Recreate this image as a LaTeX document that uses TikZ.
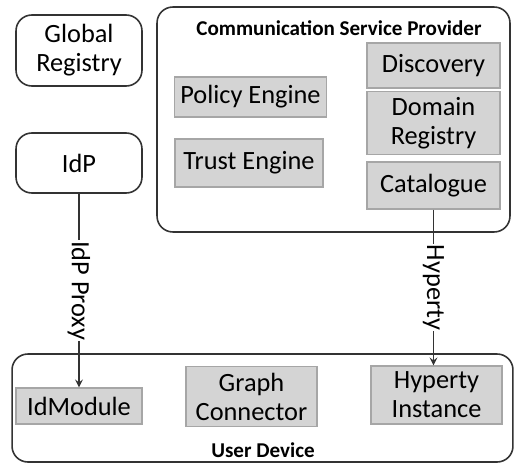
\documentclass[tikz,border=0pt]{standalone}
\usepackage{fontspec}
\setmainfont{Carlito}
\usetikzlibrary{positioning}

\begin{document}
\begin{tikzpicture}[
  x=0.02cm, y=-0.02cm,
  every node/.style={font=\fontsize{15}{16.5}\selectfont},
  entity/.style={draw=black!80, line width=0.9pt, rounded corners=9pt, align=center},
  area/.style={draw=black!80, line width=0.9pt, rounded corners=9pt},
  part/.style={draw=black!35, fill=black!17, line width=0.6pt, align=center},
  title/.style={font=\fontsize{12}{14}\selectfont\bfseries},
  link/.style={->, >=stealth, draw=black!80, line width=1pt},
  tag/.style={fill=white, rotate=-90, inner sep=0.5pt}
]
\useasboundingbox (0,0) rectangle (514,463);

% Outer domains
\node[area, minimum width=7.06cm, minimum height=4.5cm] (csp) at (333.5,119.5) {};
\node[title] (csptitle) at (339,28) {Communication Service Provider};
\node[area, minimum width=10.02cm, minimum height=2.16cm] (device) at (262.5,408) {};
\node[title] (devtitle) at (263,450) {User Device};

% Stand-alone entities
\node[entity, minimum width=2.52cm, minimum height=1.42cm] (global) at (79,50.5) {Global\\Registry};
\node[entity, minimum width=2.52cm, minimum height=1.2cm] (idp) at (79,163) {IdP};

% Provider components
\node[part, minimum width=3.02cm, minimum height=0.8cm] (policy) at (250.5,97) {Policy Engine};
\node[part, minimum width=2.96cm, minimum height=0.96cm] (trust) at (249,163) {Trust Engine};
\node[part, minimum width=2.66cm, minimum height=0.9cm] (discovery) at (433.5,65.5) {Discovery};
\node[part, minimum width=2.66cm, minimum height=1.2cm] (registry) at (433.5,123) {Domain\\Registry};
\node[part, minimum width=2.66cm, minimum height=0.94cm] (catalogue) at (433.5,185.5) {Catalogue};

% Device components
\node[part, minimum width=2.52cm, minimum height=0.72cm] (idmodule) at (79,406) {IdModule};
\node[part, minimum width=2.62cm, minimum height=1.1cm] (graph) at (251.5,396.5) {Graph\\Connector};
\node[part, minimum width=2.62cm, minimum height=1.16cm] (instance) at (436.5,395) {Hyperty\\Instance};

% Deployment links
\draw[link] (idp.south) -- node[tag, pos=0.5] {IdP Proxy} (idmodule.north);
\draw[link] (catalogue.south) -- node[tag, pos=0.5] {Hyperty} (catalogue.south |- instance.north);

\end{tikzpicture}
\end{document}
